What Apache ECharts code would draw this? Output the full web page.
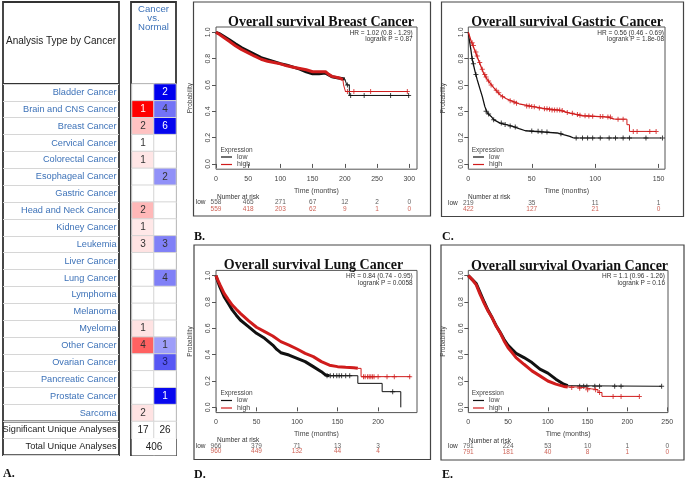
<!DOCTYPE html>
<html><head><meta charset="utf-8">
<script src="https://cdn.jsdelivr.net/npm/echarts@6/dist/echarts.min.js"></script>
<style>html,body{margin:0;padding:0;background:#fff}#c{width:685px;height:481px}</style>
</head><body><div id="c"></div>
<script>
// ---------------- Panel A data ----------------
const cancers = ['Bladder Cancer','Brain and CNS Cancer','Breast Cancer','Cervical Cancer','Colorectal Cancer','Esophageal Cancer','Gastric Cancer','Head and Neck Cancer','Kidney Cancer','Leukemia','Liver Cancer','Lung Cancer','Lymphoma','Melanoma','Myeloma','Other Cancer','Ovarian Cancer','Pancreatic Cancer','Prostate Cancer','Sarcoma'];
const upCounts   = [null,1,2,1,1,null,null,2,1,3,null,null,null,null,1,4,null,null,null,2];
const downCounts = [2,4,6,null,null,2,null,null,null,3,null,4,null,null,null,1,3,null,1,null];
const upShade    = [0,1.0,0.24,0,0.1,0,0,0.28,0.09,0.11,0,0,0,0,0.11,0.62,0,0,0,0.11];
const downShade  = [1.0,0.55,0.98,0,0,0.43,0,0,0,0.5,0,0.5,0,0,0,0.38,0.66,0,0.97,0];
const summaryLabels = ['Significant Unique Analyses','Total Unique Analyses'];
const significantCounts = [17, 26];
const totalUnique = 406;
const columnHeader = ['Cancer','vs.','Normal'];

// ---------------- KM data ----------------
const probTicks = [0,0.2,0.4,0.6,0.8,1.0];
// Breast
const breastTicks = [0,50,100,150,200,250,300];
const breastRiskLow = [558,465,271,67,12,2,0];
const breastRiskHigh = [559,418,203,62,9,1,0];
const breastLowBody = [[0,1],[5,0.99],[10,0.975],[20,0.945],[30,0.912],[40,0.882],[50,0.857],[60,0.832],[70,0.807],[80,0.792],[90,0.777],[100,0.762],[110,0.75],[120,0.735],[130,0.72],[140,0.70],[150,0.685],[160,0.685],[170,0.69],[180,0.662],[190,0.652],[200,0.645]];
const breastLowTail = [[200,0.645],[203,0.60],[207,0.52],[300,0.52]];
const breastLowCens = [[204,0.6],[209,0.52],[230,0.52],[271,0.52],[299,0.52]];
const breastHighBody = [[0,1],[5,0.985],[10,0.968],[20,0.933],[30,0.898],[40,0.868],[50,0.843],[60,0.818],[70,0.795],[80,0.78],[90,0.77],[100,0.76],[110,0.745],[120,0.735],[130,0.725],[140,0.715],[150,0.70],[160,0.70],[170,0.70],[175,0.68],[180,0.665],[190,0.655],[197,0.64]];
const breastHighTail = [[197,0.64],[198,0.60],[201,0.55],[298,0.55]];
const breastHighCens = [[204,0.55],[214,0.55],[240,0.55],[297,0.55]];
// Gastric
const gastricTicks = [0,50,100,150];
const gastricRiskLow = [219,35,11,1];
const gastricRiskHigh = [422,127,21,0];
const gastricLowBody = [[0,1],[1,0.93],[2,0.87],[3,0.80],[5,0.715],[7,0.64],[9,0.576],[11,0.513],[13,0.437],[15,0.386],[18,0.361],[20,0.336],[25,0.31],[30,0.298],[35,0.285],[40,0.268],[45,0.252],[60,0.242],[70,0.235],[75,0.222],[80,0.21],[83,0.197]];
const gastricLowTail = [[83,0.197],[152,0.197]];
const gastricLowCens = [[3,0.80],[4,0.76],[6,0.68],[14,0.40],[16,0.38],[20,0.336],[26,0.31],[29,0.30],[33,0.288],[37,0.28],[50,0.25],[55,0.248],[58,0.244],[62,0.242],[73,0.23],[85,0.197],[90,0.197],[94,0.197],[98,0.197],[104,0.197],[111,0.197],[116,0.197],[122,0.197],[127,0.197],[140,0.197],[153,0.197]];
const gastricHighBody = [[0,1],[2,0.94],[5,0.866],[8,0.79],[10,0.74],[12,0.69],[15,0.64],[20,0.58],[25,0.525],[30,0.495],[35,0.475],[40,0.457],[50,0.437],[60,0.42],[70,0.41],[75,0.40],[80,0.386],[90,0.366],[100,0.361],[110,0.356],[115,0.34]];
const gastricHighTail = [[115,0.34],[125,0.298],[127,0.247],[148,0.247]];
const gastricHighCens = [[3,0.92],[4,0.9],[6,0.85],[7,0.82],[9,0.77],[11,0.72],[13,0.68],[14,0.66],[16,0.63],[18,0.6],[22,0.56],[24,0.54],[27,0.51],[33,0.48],[36,0.47],[38,0.46],[46,0.44],[48,0.44],[50,0.437],[52,0.435],[56,0.425],[60,0.42],[62,0.42],[64,0.415],[66,0.41],[68,0.41],[70,0.41],[72,0.41],[74,0.405],[78,0.39],[82,0.385],[86,0.375],[88,0.37],[92,0.366],[95,0.365],[98,0.362],[104,0.36],[106,0.36],[110,0.356],[112,0.356],[118,0.34],[122,0.34],[130,0.247],[133,0.247],[143,0.247],[148,0.247]];
// Lung
const lungTicks = [0,50,100,150,200];
const lungRiskLow = [966,379,71,13,3];
const lungRiskHigh = [960,449,132,44,4];
const lungLowBody = [[0,1],[2,0.96],[5,0.91],[10,0.84],[15,0.79],[20,0.74],[25,0.70],[30,0.663],[40,0.613],[50,0.562],[60,0.524],[70,0.473],[75,0.44],[80,0.415],[90,0.397],[100,0.372],[110,0.347],[120,0.309],[130,0.271],[135,0.246],[140,0.24]];
const lungLowTail = [[140,0.24],[175,0.182],[205,0.119],[228,0]];
const lungLowCens = [[137,0.24],[141,0.24],[145,0.24],[149,0.24],[152,0.24],[155,0.24],[160,0.24],[165,0.24],[218,0.119]];
const lungHighBody = [[0,1],[2,0.97],[5,0.93],[10,0.866],[15,0.82],[20,0.777],[25,0.745],[30,0.714],[40,0.658],[50,0.608],[60,0.575],[70,0.542],[80,0.499],[90,0.473],[100,0.443],[110,0.41],[120,0.385],[130,0.347],[140,0.32],[150,0.309],[160,0.304],[170,0.30],[175,0.296]];
const lungHighTail = [[175,0.296],[179,0.233],[240,0.233]];
const lungHighCens = [[182,0.233],[184,0.233],[187,0.233],[189,0.233],[191,0.233],[193,0.233],[195,0.233],[200,0.233],[211,0.233],[220,0.233],[239,0.233]];
// Ovarian
const ovarianTicks = [0,50,100,150,200,250];
const ovarianRiskLow = [791,224,53,10,1,0];
const ovarianRiskHigh = [791,181,40,8,1,0];
const ovarianLowBody = [[0,1],[5,0.97],[10,0.94],[15,0.87],[20,0.80],[25,0.735],[30,0.68],[35,0.62],[40,0.57],[45,0.515],[50,0.471],[55,0.44],[60,0.41],[70,0.378],[80,0.34],[90,0.29],[100,0.26],[110,0.214],[120,0.176],[125,0.164]];
const ovarianLowTail = [[125,0.164],[130,0.16],[243,0.16]];
const ovarianLowCens = [[140,0.16],[145,0.16],[149,0.16],[159,0.16],[165,0.16],[184,0.16],[192,0.16],[243,0.16]];
const ovarianHighBody = [[0,1],[5,0.97],[10,0.93],[15,0.856],[20,0.79],[25,0.73],[30,0.68],[35,0.617],[40,0.567],[45,0.504],[50,0.453],[55,0.416],[60,0.378],[70,0.327],[80,0.277],[90,0.239],[100,0.2],[110,0.176],[120,0.159],[125,0.155]];
const ovarianHighTail = [[125,0.155],[135,0.15],[145,0.14],[155,0.134],[163,0.113],[168,0.083],[215,0.083]];
const ovarianHighCens = [[130,0.151],[140,0.144],[150,0.134],[160,0.134],[165,0.113],[182,0.083],[192,0.083],[215,0.083]];

const titles = ['Overall survival Breast Cancer','Overall survival Gastric Cancer','Overall survival Lung Cancer','Overall survival Ovarian Cancer'];
const hrTexts = [['HR = 1.02 (0.8 - 1.29)','logrank P = 0.87'],['HR = 0.56 (0.46 - 0.69)','logrank P = 1.8e-08'],['HR = 0.84 (0.74 - 0.95)','logrank P = 0.0058'],['HR = 1.1 (0.96 - 1.26)','logrank P = 0.16']];
const panelLetters = ['A.','B.','C.','D.','E.'];

// ---------------- styling / layout ----------------
const SANS = '"Liberation Sans", Arial, sans-serif';
const SERIF = '"Liberation Serif", "Times New Roman", serif';
const TFS = 9.2; // table font size
const BLUE_TXT = '#3d72b8';
const LOW_C = '#111111', HIGH_C = '#d01c1c';
const CROSS = 'path://M0,4H10V6H0ZM4,0H6V10H4Z';

const kmData = [
  {ticks:breastTicks, rl:breastRiskLow, rh:breastRiskHigh, lb:breastLowBody, lt:breastLowTail, lc:breastLowCens, hb:breastHighBody, ht:breastHighTail, hc:breastHighCens},
  {ticks:gastricTicks, rl:gastricRiskLow, rh:gastricRiskHigh, lb:gastricLowBody, lt:gastricLowTail, lc:gastricLowCens, hb:gastricHighBody, ht:gastricHighTail, hc:gastricHighCens},
  {ticks:lungTicks, rl:lungRiskLow, rh:lungRiskHigh, lb:lungLowBody, lt:lungLowTail, lc:lungLowCens, hb:lungHighBody, ht:lungHighTail, hc:lungHighCens},
  {ticks:ovarianTicks, rl:ovarianRiskLow, rh:ovarianRiskHigh, lb:ovarianLowBody, lt:ovarianLowTail, lc:ovarianLowCens, hb:ovarianHighBody, ht:ovarianHighTail, hc:ovarianHighCens}
];
const kmLayout = [
  {left:216, top:27, width:201, xmax:312, riskTop:199, riskH:13.4, bodyW:3, frame:[193.5,2,237,214], titleX:321, titleY:22.5, hrX:412.7, hrY:33, nriskX:217, nriskY:197, legL:221, legT:153.5, expX:220.5, expY:150, letter:[194,237]},
  {left:468.3, top:27, width:196.7, xmax:155, riskTop:199.7, riskH:13, bodyW:1.3, frame:[441.5,2,242,214.5], titleX:567, titleY:22.5, hrX:664, hrY:33, nriskX:468, nriskY:197, legL:473, legT:153.5, expX:471.7, expY:150, letter:[442,237]},
  {left:216, top:270.4, width:201, xmax:248, riskTop:443, riskH:11.6, bodyW:3, frame:[194,245,236.5,214.5], titleX:313.5, titleY:265.5, hrX:412.7, hrY:276.7, nriskX:217, nriskY:440.7, legL:221, legT:397, expX:220.5, expY:393.3, letter:[194,475]},
  {left:468.3, top:270.4, width:199.7, xmax:251, riskTop:444, riskH:10.6, bodyW:3, frame:[441,245,243,215], titleX:569.5, titleY:266, hrX:665, hrY:276.7, nriskX:468.7, nriskY:441, legL:473, legT:397, expX:471.7, expY:393.3, letter:[442,475]}
];

// ---------------- build table ----------------
const rowLabels = cancers.concat(summaryLabels);
const ROW_H = 16.873, TABLE_TOP = 84;
function redColor(s){const v=Math.round(255*(1-s));return `rgb(255,${v},${v})`;}
function blueColor(s){const v=Math.round(255*(1-s));return `rgb(${v},${v},${Math.round(255-17*s)})`;}
const heatData = [];
cancers.forEach((c,i)=>{
  [upCounts[i], downCounts[i]].forEach((cnt,j)=>{
    const sh = j===0 ? upShade[i] : downShade[i];
    const col = cnt==null ? '#ffffff' : (j===0 ? redColor(sh) : blueColor(sh));
    heatData.push({value:[j,i,cnt==null?0:cnt], itemStyle:{color:col,borderColor:'#d6d6d6',borderWidth:1},
      label:{color: sh>0.8 ? '#ffffff' : (j===1 && sh>0.6 ? '#1a1a60' : '#333333')}});
  });
});
significantCounts.forEach((v,j)=>heatData.push({value:[j,20,v], itemStyle:{color:'#fff',borderColor:'#d6d6d6',borderWidth:1}, label:{color:'#222'}}));
heatData.push({value:[0,21,0], itemStyle:{color:'#fff',borderWidth:0}});
heatData.push({value:[1,21,totalUnique], itemStyle:{color:'#fff',borderWidth:0}, label:{color:'#222', offset:[-11,0]}});

const NOB = {outerBoundsMode:'none', containLabel:false};
const grids = [
  Object.assign({left:3, top:TABLE_TOP, width:116, height:ROW_H*rowLabels.length}, NOB),
  Object.assign({left:132, top:TABLE_TOP, width:44, height:ROW_H*rowLabels.length}, NOB)
];
const xAxes = [
  {gridIndex:0, type:'category', data:[''], show:false},
  {gridIndex:1, type:'category', data:['up','down'], show:false}
];
const yAxes = [
  {gridIndex:0, type:'category', data:rowLabels, inverse:true, axisLine:{show:false}, axisTick:{show:false}, axisLabel:{show:false}, splitLine:{show:true, lineStyle:{color:'#d6d6d6', width:1}}},
  {gridIndex:1, type:'category', data:rowLabels, inverse:true, axisLine:{show:false}, axisTick:{show:false}, splitLine:{show:false},
   axisLabel:{margin:15.5, formatter:v=> summaryLabels.includes(v) ? '{s|'+v+'}' : '{c|'+v+'}',
     rich:{c:{color:BLUE_TXT,fontSize:TFS,fontFamily:SANS}, s:{color:'#222',fontSize:TFS,fontFamily:SANS}}}}
];
const series = [
  {type:'heatmap', name:'table', xAxisIndex:1, yAxisIndex:1, data:heatData,
   label:{show:true, fontSize:10, fontFamily:SANS, formatter:p=> p.value[2] ? String(p.value[2]) : ''},
   emphasis:{disabled:true}}
];
const legends = [];
const graphic = [];

kmLayout.forEach((L,k)=>{
  const D = kmData[k];
  const gi = grids.length;
  grids.push(Object.assign({left:L.left, top:L.top, width:L.width, height:142.2, show:true, borderColor:'#555', borderWidth:1, backgroundColor:'transparent'}, NOB));
  grids.push(Object.assign({left:L.left, top:L.riskTop, width:L.width, height:L.riskH}, NOB));
  xAxes.push({gridIndex:gi, type:'value', min:0, max:L.xmax, splitLine:{show:false}, axisLine:{show:false},
    axisTick:{show:true, customValues:D.ticks, length:4, lineStyle:{color:'#555'}},
    axisLabel:{customValues:D.ticks, fontSize:7, color:'#444', margin:6, fontFamily:SANS},
    name:'Time (months)', nameLocation:'middle', nameGap:18, nameTextStyle:{fontSize:7, color:'#444', fontFamily:SANS}});
  yAxes.push({gridIndex:gi, type:'value', min:-0.04, max:1.04, splitLine:{show:false}, axisLine:{show:false},
    axisTick:{show:true, customValues:probTicks, length:4, lineStyle:{color:'#555'}},
    axisLabel:{customValues:probTicks, formatter:v=>v.toFixed(1), rotate:90, fontSize:7, color:'#444', margin:4, fontFamily:SANS},
    name:'Probability', nameLocation:'middle', nameGap:22, nameTextStyle:{fontSize:6.5, color:'#444', fontFamily:SANS}});
  xAxes.push({gridIndex:gi+1, type:'value', min:0, max:L.xmax, show:false});
  yAxes.push({gridIndex:gi+1, type:'category', data:['low','high'], inverse:true, axisLine:{show:false}, axisTick:{show:false},
    axisLabel:{margin:10.5, formatter:v=>'{'+v+'|'+v+'}', rich:{low:{color:'#333',fontSize:6.5,fontFamily:SANS}, high:{color:'#c0392b',fontSize:6.5,fontFamily:SANS}}}});
  const common = {xAxisIndex:gi, yAxisIndex:gi, showSymbol:false, symbol:'none', emphasis:{disabled:true}};
  [['low',LOW_C,D.lb,D.lt,D.lc],['high',HIGH_C,D.hb,D.ht,D.hc]].forEach(([nm,col,body,tail,cens])=>{
    series.push(Object.assign({type:'line', name:nm, data:body, color:col, lineStyle:{width:L.bodyW, color:col}}, common));
    series.push(Object.assign({type:'line', name:nm, data:tail, step:'end', color:col, lineStyle:{width:1, color:col}}, common));
    series.push({type:'scatter', name:nm, xAxisIndex:gi, yAxisIndex:gi, data:cens, symbol:CROSS, symbolSize:5, itemStyle:{color:col}, emphasis:{disabled:true}, clip:false});
  });
  series.push({type:'scatter', name:'risk', xAxisIndex:gi+1, yAxisIndex:gi+1, symbolSize:0, clip:false,
    data:D.ticks.map((t,i)=>[t,'low',D.rl[i]]), label:{show:true, position:'inside', formatter:p=>String(p.value[2]), fontSize:6.5, color:'#333', fontFamily:SANS}});
  series.push({type:'scatter', name:'risk', xAxisIndex:gi+1, yAxisIndex:gi+1, symbolSize:0, clip:false,
    data:D.ticks.map((t,i)=>[t,'high',D.rh[i]]), label:{show:true, position:'inside', formatter:p=>String(p.value[2]), fontSize:6.5, color:'#c0392b', fontFamily:SANS}});
  legends.push({left:L.legL, top:L.legT, orient:'vertical', padding:0, itemGap:0.5, itemWidth:11, itemHeight:1.2, icon:'rect', selectedMode:false,
    data:['low','high'], textStyle:{fontSize:7, color:'#444', lineHeight:6.5, fontFamily:SANS}});
  const f = L.frame;
  graphic.push({type:'rect', silent:true, shape:{x:f[0],y:f[1],width:f[2],height:f[3]}, style:{fill:'none', stroke:'#444', lineWidth:1.2}});
  const txt = (x,y,text,font,fill,align)=>({type:'text', silent:true, x, y, style:{text, font, fill, textAlign:align, align:align, textVerticalAlign:'middle', verticalAlign:'middle'}});
  graphic.push(txt(L.titleX, L.titleY, titles[k], 'bold 14px '+SERIF, '#111', 'center'));
  graphic.push(txt(L.hrX, L.hrY, hrTexts[k][0], '6.5px '+SANS, '#333', 'right'));
  graphic.push(txt(L.hrX, L.hrY+6.5, hrTexts[k][1], '6.5px '+SANS, '#333', 'right'));
  graphic.push(txt(L.nriskX, L.nriskY, 'Number at risk', '6.5px '+SANS, '#333', 'left'));
  graphic.push(txt(L.expX, L.expY, 'Expression', '6.5px '+SANS, '#444', 'left'));
  graphic.push(txt(L.letter[0], L.letter[1], panelLetters[k+1], 'bold 12px '+SERIF, '#111', 'left'));
});

// table decorations
const tableBottom = TABLE_TOP + ROW_H*rowLabels.length;
const sepY = TABLE_TOP + ROW_H*cancers.length;
graphic.push({type:'rect', silent:true, shape:{x:3,y:2,width:116,height:tableBottom-2}, style:{fill:'none', stroke:'#333', lineWidth:1.8}});
graphic.push({type:'rect', silent:true, shape:{x:131,y:2,width:45,height:tableBottom-2}, style:{fill:'none', stroke:'#333', lineWidth:1.8}});
[[3,119],[131,176]].forEach(([a,b])=>{
  graphic.push({type:'line', silent:true, shape:{x1:a,y1:TABLE_TOP,x2:b,y2:TABLE_TOP}, style:{stroke:'#333', lineWidth:2}});
  graphic.push({type:'line', silent:true, shape:{x1:a,y1:sepY,x2:b,y2:sepY}, style:{stroke:'#333', lineWidth:2}});
});
graphic.push({type:'text', silent:true, x:61, y:41.7, style:{text:'Analysis Type by Cancer', font:'10px '+SANS, fill:'#222', textAlign:'center', align:'center', textVerticalAlign:'middle', verticalAlign:'middle'}});
columnHeader.forEach((t,i)=>graphic.push({type:'text', silent:true, x:153.5, y:9+i*9, style:{text:t, font:'9.6px '+SANS, fill:BLUE_TXT, textAlign:'center', align:'center', textVerticalAlign:'middle', verticalAlign:'middle'}}));
graphic.push({type:'text', silent:true, x:3, y:474, style:{text:panelLetters[0], font:'bold 12px '+SERIF, fill:'#111', textAlign:'left', align:'left', textVerticalAlign:'middle', verticalAlign:'middle'}});

const chart = echarts.init(document.getElementById('c'), null, {renderer:'canvas'});
chart.setOption({
  animation:false, backgroundColor:'#fff',
  grid:grids, xAxis:xAxes, yAxis:yAxes, series, legend:legends,
  graphic:{elements:graphic}
});
</script></body></html>
